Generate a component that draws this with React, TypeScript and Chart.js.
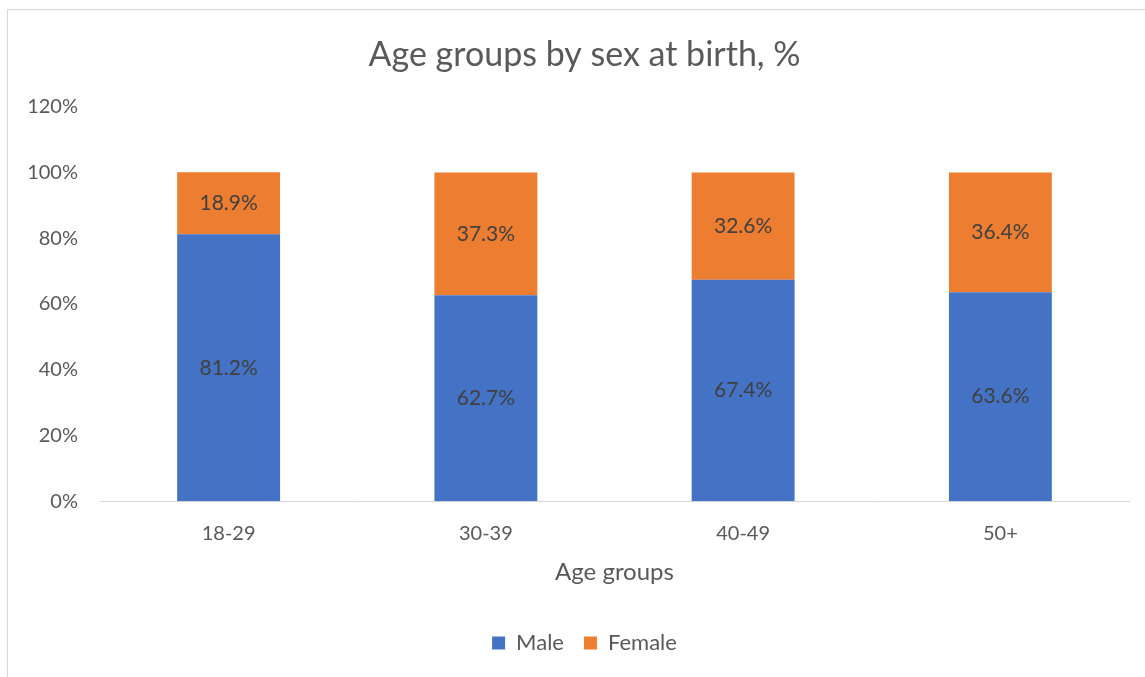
import React, { useEffect, useRef } from "react";
import { Chart, registerables } from "chart.js";

Chart.register(...registerables);

const categories = ["18-29", "30-39", "40-49", "50+"];
const maleValues = [81.2, 62.7, 67.4, 63.6];
const femaleValues = [18.9, 37.3, 32.6, 36.4];
const yTicks = [0, 20, 40, 60, 80, 100, 120];

const FONT = "Lato, 'Open Sans', sans-serif";
const TEXT = "#595959";

// Writes each segment's value in the middle of its bar
const segmentLabels = {
  id: "segmentLabels",
  afterDatasetsDraw(chart: any) {
    const { ctx } = chart;
    ctx.save();
    ctx.font = `21px ${FONT}`;
    ctx.fillStyle = "#404040";
    ctx.textAlign = "center";
    ctx.textBaseline = "middle";
    chart.data.datasets.forEach((ds: any, di: number) => {
      const meta = chart.getDatasetMeta(di);
      meta.data.forEach((bar: any, i: number) => {
        const v = ds.data[i] as number;
        ctx.fillText(v.toFixed(1) + "%", bar.x, (bar.y + bar.base) / 2);
      });
    });
    ctx.restore();
  },
};

// Lets the y tick labels extend into the left layout padding without being clipped
const widenYLabelArea = {
  id: "widenYLabelArea",
  afterLayout(chart: any) {
    const y = chart.scales.y;
    if (y) y.left = 0;
  },
};

export default function App() {
  const canvasRef = useRef<HTMLCanvasElement | null>(null);

  useEffect(() => {
    document.body.style.margin = "0";
    const chart = new Chart(canvasRef.current as HTMLCanvasElement, {
      type: "bar",
      data: {
        labels: categories,
        datasets: [
          { label: "Male", data: maleValues, backgroundColor: "#4472C4" },
          { label: "Female", data: femaleValues, backgroundColor: "#ED7D31" },
        ],
      },
      plugins: [segmentLabels, widenYLabelArea],
      options: {
        animation: false,
        responsive: false,
        maintainAspectRatio: false,
        layout: { padding: { left: 40, right: 16, top: 0, bottom: 13 } },
        datasets: { bar: { categoryPercentage: 1, barPercentage: 0.4 } },
        plugins: {
          tooltip: { enabled: false },
          title: {
            display: true,
            text: "Age groups by sex at birth, %",
            color: TEXT,
            font: { family: FONT, size: 34, weight: "normal" },
            padding: { top: 35, bottom: 31 },
          },
          legend: {
            position: "bottom",
            labels: {
              color: TEXT,
              font: { family: FONT, size: 22 },
              boxWidth: 13,
              boxHeight: 13,
              padding: 20,
            },
          },
        },
        scales: {
          x: {
            stacked: true,
            grid: { display: false },
            border: { display: true, color: "#d9d9d9", width: 1 },
            ticks: { color: TEXT, font: { family: FONT, size: 20 }, padding: 12 },
            title: {
              display: true,
              text: "Age groups",
              color: TEXT,
              font: { family: FONT, size: 24 },
              padding: { top: 1, bottom: 25 },
            },
          },
          y: {
            stacked: true,
            min: 0,
            max: 120,
            grid: { display: false },
            border: { display: false },
            afterBuildTicks: (scale: any) => {
              scale.ticks = yTicks.map((v) => ({ value: v }));
            },
            afterFit: (scale: any) => {
              scale.width = 60;
            },
            ticks: {
              color: TEXT,
              font: { family: FONT, size: 20 },
              padding: 14,
              callback: (v: any) => v + "%",
            },
          },
        },
      },
    });
    return () => chart.destroy();
  }, []);

  return (
    <div style={{ position: "relative", width: 1145, height: 677, background: "#fff", overflow: "hidden" }}>
      <canvas ref={canvasRef} width={1145} height={677} style={{ position: "absolute", left: 0, top: 0 }} />
      <div
        style={{
          position: "absolute",
          left: 7,
          top: 9,
          width: 1160,
          height: 700,
          border: "1px solid #d9d9d9",
          pointerEvents: "none",
        }}
      />
    </div>
  );
}
